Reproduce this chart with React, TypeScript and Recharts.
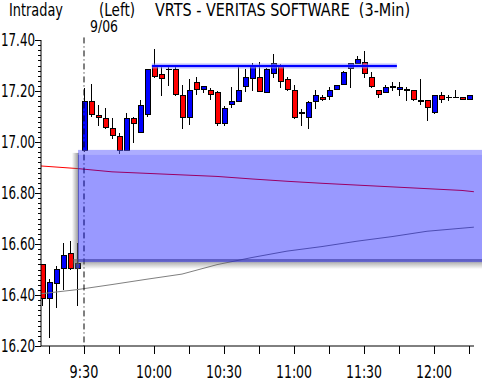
import React from "react";
import {
  ComposedChart,
  XAxis,
  YAxis,
  Bar,
  Line,
  ReferenceArea,
  ReferenceLine,
} from "recharts";

// 3-minute bars, index 0 = 9:12 (previous session tail), index 6 = 9:30 open
const opens = [
  16.52, 16.387, 16.446, 16.505, 16.564, 16.503, 16.967, 17.157, 17.105, 17.093,
  17.054, 17.021, 16.967, 17.091, 17.038, 17.106, 17.295, 17.265, 17.285, 17.285,
  17.183, 17.097, 17.234, 17.207, 17.203, 17.195, 17.071, 17.148, 17.158, 17.218,
  17.25, 17.254, 17.195, 17.269, 17.295, 17.246, 17.203, 17.113, 17.095, 17.16,
  17.175, 17.178, 17.207, 17.226, 17.289, 17.309, 17.313, 17.254, 17.203, 17.195,
  17.215, 17.205, 17.203, 17.203, 17.161, 17.164, 17.115, 17.183, 17.174, 17.175,
  17.175, 17.167,
];
const highs = [
  16.52, 16.462, 16.515, 16.603, 16.612, 16.603, 17.212, 17.226, 17.144, 17.132,
  17.093, 17.034, 17.115, 17.097, 17.165, 17.285, 17.365, 17.293, 17.293, 17.295,
  17.224, 17.246, 17.255, 17.216, 17.213, 17.2, 17.142, 17.215, 17.295, 17.285,
  17.311, 17.314, 17.29, 17.345, 17.306, 17.254, 17.222, 17.128, 17.162, 17.204,
  17.184, 17.216, 17.224, 17.28, 17.31, 17.337, 17.357, 17.273, 17.203, 17.224,
  17.235, 17.235, 17.215, 17.203, 17.246, 17.164, 17.185, 17.195, 17.183, 17.204,
  17.175, 17.185,
];
const lows = [
  16.357, 16.23, 16.35, 16.42, 16.5, 16.357, 16.96, 17.1, 17.063, 17.052,
  17.012, 16.952, 16.965, 16.995, 17.034, 17.1, 17.252, 17.182, 17.221, 17.182,
  17.052, 17.065, 17.183, 17.193, 17.164, 17.064, 17.063, 17.132, 17.156, 17.195,
  17.201, 17.195, 17.192, 17.25, 17.213, 17.201, 17.091, 17.064, 17.052, 17.131,
  17.162, 17.164, 17.205, 17.224, 17.213, 17.305, 17.252, 17.213, 17.174, 17.192,
  17.201, 17.182, 17.161, 17.161, 17.144, 17.084, 17.111, 17.152, 17.162, 17.172,
  17.164, 17.165,
];
const closes = [
  16.387, 16.45, 16.501, 16.553, 16.504, 16.522, 17.157, 17.107, 17.097, 17.056,
  17.025, 16.967, 17.091, 17.071, 17.144, 17.285, 17.256, 17.25, 17.285, 17.187,
  17.097, 17.203, 17.207, 17.216, 17.187, 17.071, 17.132, 17.157, 17.203, 17.254,
  17.295, 17.197, 17.285, 17.306, 17.236, 17.205, 17.095, 17.113, 17.156, 17.184,
  17.167, 17.203, 17.222, 17.273, 17.306, 17.325, 17.269, 17.217, 17.187, 17.215,
  17.215, 17.215, 17.203, 17.165, 17.161, 17.136, 17.183, 17.165, 17.174, 17.175,
  17.167, 17.183,
];

// moving averages, read at every 5th bar
const avgIndex = [-0.14, 5, 10, 15, 20, 25, 30, 35, 40, 45, 50, 55, 60, 61.7];
const redAvg = [
  16.906, 16.896, 16.883, 16.877, 16.871, 16.865, 16.855, 16.846, 16.838, 16.831,
  16.824, 16.817, 16.81, 16.805,
];
const grayAvg = [
  16.405, 16.421, 16.441, 16.462, 16.482, 16.519, 16.547, 16.572, 16.59, 16.611,
  16.629, 16.65, 16.662, 16.666,
];

const xTicks = [1, 6, 11, 16, 21, 26, 31, 36, 41, 46, 51, 56, 61];
const xLabels: Record<number, string> = {
  6: "9:30",
  16: "10:00",
  26: "10:30",
  36: "11:00",
  46: "11:30",
  56: "12:00",
};

const resistance = { y: 17.298, from: 15.7, to: 50.7 };
const zone = { top: 16.969, bottom: 16.529, from: 5.14, to: 62.86 };
const dayBreak = 6;

const FONT = '"DejaVu Sans Condensed", "DejaVu Sans", sans-serif';

const yTicks: number[] = [];
for (let v = 1620; v <= 1740; v += 2) yTicks.push(v / 100);

const candles = opens.map((o, i) => ({
  i,
  o,
  h: highs[i],
  l: lows[i],
  c: closes[i],
  range: [lows[i], highs[i]],
}));
const redData = avgIndex.map((i, k) => ({ i, v: redAvg[k] }));
const grayData = avgIndex.map((i, k) => ({ i, v: grayAvg[k] }));

function Candle(props: any) {
  const { x, y, width, height, payload } = props;
  if (!payload) return null;
  const { o, h, l, c } = payload;
  const top = Math.min(y, y + height);
  const hh = Math.abs(height);
  const k = hh / (h - l);
  const yOf = (v: number) => top + (h - v) * k;
  const cx = Math.round(x + width / 2) + 0.5;
  const bTop = yOf(Math.max(o, c));
  const bBot = yOf(Math.min(o, c));
  const doji = bBot - bTop < 1;
  return (
    <g shapeRendering="crispEdges">
      <line x1={cx} x2={cx} y1={top} y2={top + hh} stroke="#000" strokeWidth={1} />
      {doji ? (
        <line x1={cx - 3} x2={cx + 3} y1={bTop} y2={bTop} stroke="#000" strokeWidth={1.5} />
      ) : (
        <rect
          x={cx - 2.5}
          y={bTop}
          width={5}
          height={bBot - bTop}
          fill={c > o ? "#0000ff" : "#ff0000"}
          stroke="#000"
          strokeWidth={1}
        />
      )}
    </g>
  );
}

function Zone(props: any) {
  const { x, y, width, height } = props;
  return (
    <g>
      <defs>
        <linearGradient id="shL" x1="0" x2="1" y1="0" y2="0">
          <stop offset="0" stopColor="#606060" stopOpacity={0} />
          <stop offset="1" stopColor="#606060" stopOpacity={0.7} />
        </linearGradient>
        <linearGradient id="shB" x1="0" x2="0" y1="0" y2="1">
          <stop offset="0" stopColor="#606060" stopOpacity={0.7} />
          <stop offset="1" stopColor="#606060" stopOpacity={0} />
        </linearGradient>
      </defs>
      <rect x={x - 6} y={y + 3} width={7} height={height + 4} fill="url(#shL)" />
      <rect x={x - 5} y={y + height - 3} width={width + 5} height={10} fill="url(#shB)" />
      <rect x={x} y={y} width={width} height={height} fill="#0000ff" fillOpacity={0.4} />
      <rect x={x} y={y} width={width} height={5} fill="#ffffff" fillOpacity={0.2} />
    </g>
  );
}

function YTick(props: any) {
  const { x, y, payload } = props;
  const v = payload.value;
  const major = Math.abs(v * 5 - Math.round(v * 5)) < 1e-6;
  if (!major)
    return <line x1={x - 3} x2={x} y1={y + 0.5} y2={y + 0.5} stroke="#000" shapeRendering="crispEdges" />;
  return (
    <g>
      <line x1={x - 6} x2={x} y1={y + 0.5} y2={y + 0.5} stroke="#000" shapeRendering="crispEdges" />
      <text
        x={x - 6}
        y={y}
        dy="0.36em"
        textAnchor="end"
        fontSize={18}
        fontFamily={FONT}
        fill="#000"
        textLength={34}
        lengthAdjust="spacingAndGlyphs"
      >
        {v.toFixed(2)}
      </text>
    </g>
  );
}

function XTick(props: any) {
  const { x, y, payload } = props;
  const label = xLabels[payload.value];
  const px = Math.round(x) + 0.5;
  return (
    <g>
      <line x1={px} x2={px} y1={y} y2={y + 8} stroke="#000" shapeRendering="crispEdges" />
      {label && (
        <text
          x={x}
          y={y + 26}
          dy="0.36em"
          textAnchor="middle"
          fontSize={18}
          fontFamily={FONT}
          fill="#000"
          textLength={label.length * 7.2}
          lengthAdjust="spacingAndGlyphs"
        >
          {label}
        </text>
      )}
    </g>
  );
}

const titleProps = {
  fontSize: 17,
  fontFamily: FONT,
  fill: "#000",
  lengthAdjust: "spacingAndGlyphs",
} as const;

export default function App() {
  return (
    <div style={{ position: "absolute", left: 0, top: 0, width: 482, height: 382, background: "#fff" }}>
      <ComposedChart
        width={482}
        height={382}
        data={candles}
        margin={{ top: 40, right: 8, bottom: 0, left: 0 }}
      >
        <XAxis
          dataKey="i"
          type="number"
          domain={[-1 / 7, 61 + 5 / 7]}
          allowDataOverflow
          ticks={xTicks}
          tick={<XTick />}
          tickLine={false}
          tickSize={0}
          tickMargin={0}
          height={36}
          axisLine={{ stroke: "#000" }}
          interval={0}
        />
        <YAxis
          type="number"
          domain={[16.2, 17.4]}
          allowDataOverflow
          ticks={yTicks}
          tick={<YTick />}
          tickLine={false}
          tickSize={0}
          tickMargin={0}
          width={41}
          axisLine={{ stroke: "#000" }}
          interval={0}
        />
        <Line
          data={redData}
          dataKey="v"
          type="linear"
          stroke="#ff0000"
          strokeWidth={1}
          dot={false}
          isAnimationActive={false}
        />
        <Line
          data={grayData}
          dataKey="v"
          type="linear"
          stroke="#808080"
          strokeWidth={1}
          dot={false}
          isAnimationActive={false}
        />
        <ReferenceLine
          segment={[
            { x: dayBreak, y: 17.41 },
            { x: dayBreak, y: 16.2 },
          ]}
          stroke="#000"
          strokeWidth={1}
          strokeDasharray="6 3 1 3"
          ifOverflow="visible"
        />
        <Bar dataKey="range" barSize={5} shape={<Candle />} isAnimationActive={false} />
        <ReferenceArea
          x1={zone.from}
          x2={zone.to}
          y1={zone.bottom}
          y2={zone.top}
          ifOverflow="visible"
          shape={<Zone />}
          {...({ isFront: true, zIndex: 1500 } as any)}
        />
        <ReferenceLine
          segment={[
            { x: resistance.from, y: resistance.y },
            { x: resistance.to, y: resistance.y },
          ]}
          stroke="#8c8cff"
          strokeWidth={5}
          strokeOpacity={0.6}
          {...({ isFront: true, zIndex: 1600 } as any)}
        />
        <ReferenceLine
          segment={[
            { x: resistance.from, y: resistance.y },
            { x: resistance.to, y: resistance.y },
          ]}
          stroke="#0000ff"
          strokeWidth={2}
          {...({ isFront: true, zIndex: 1700 } as any)}
        />
      </ComposedChart>
      <svg width={482} height={36} style={{ position: "absolute", left: 0, top: 0 }}>
        <text x={9} y={16} textLength={54} {...titleProps}>
          Intraday
        </text>
        <text x={99} y={16} textLength={36} {...titleProps}>
          (Left)
        </text>
        <text x={155} y={16} textLength={255} {...titleProps} xmlSpace="preserve">
          VRTS - VERITAS SOFTWARE  (3-Min)
        </text>
        <text x={90} y={32} fontSize={16} fontFamily={FONT} fill="#000" textLength={28} lengthAdjust="spacingAndGlyphs">
          9/06
        </text>
      </svg>
    </div>
  );
}
